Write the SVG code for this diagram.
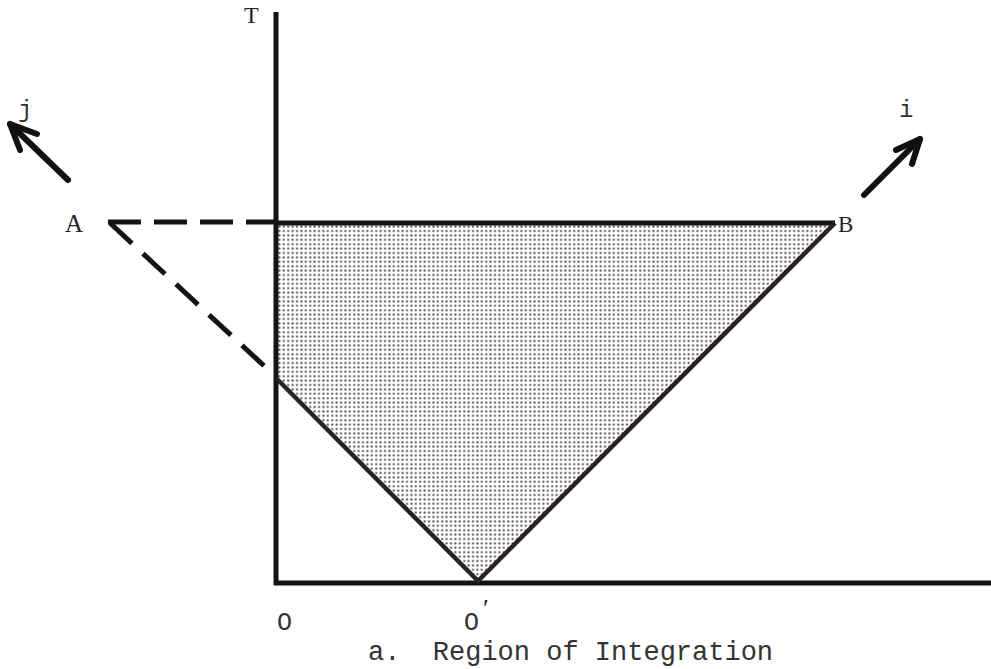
<svg xmlns="http://www.w3.org/2000/svg" width="991" height="669" viewBox="0 0 991 669">
<style>
.ln{stroke:#141414;stroke-width:5;fill:none;stroke-linecap:butt}
.dg{stroke:#2a2222;stroke-width:4.5;fill:none}
.ds{stroke:#141414;stroke-width:5;fill:none;stroke-dasharray:33 13}
.dd{stroke:#141414;stroke-width:5;fill:none;stroke-dasharray:30 15}
.ar{stroke:#111;stroke-width:6;fill:none;stroke-linecap:round;stroke-linejoin:round}
.sf{font-family:"Liberation Serif",serif;fill:#222}
.mn{font-family:"Liberation Mono",monospace;fill:#333}
</style>
<defs>
<pattern id="dots" width="4.4" height="4.4" patternUnits="userSpaceOnUse">
<circle cx="2.2" cy="2.2" r="1.05" fill="#4a4a4a"/>
</pattern>
</defs>
<g id="region">
<polygon points="276,223 833,223 478,581 276,378" fill="url(#dots)"/>
</g>
<g id="connectors">
<line class="ln" x1="276" y1="12" x2="276" y2="585"/>
<line class="ln" x1="274" y1="583" x2="991" y2="583"/>
<line class="ds" x1="108" y1="222" x2="276" y2="222"/>
<line class="ln" x1="276" y1="223" x2="835" y2="223"/>
<line class="dd" x1="110" y1="223" x2="275" y2="376"/>
<line class="dg" x1="276" y1="378" x2="479" y2="582"/>
<line class="dg" x1="477" y1="582" x2="835" y2="223"/>
<g id="arrow-j">
<line class="ar" x1="68" y1="180" x2="10" y2="124"/>
<polyline class="ar" points="20,150 10,124 37,134"/>
</g>
<g id="arrow-i">
<line class="ar" x1="864" y1="195" x2="920" y2="139"/>
<polyline class="ar" points="896,150 920,139 912,164"/>
</g>
</g>
<g id="labels">
<text class="sf" x="244" y="23" font-size="24">T</text>
<text class="mn" x="18" y="117" font-size="24">j</text>
<text class="mn" x="899" y="117" font-size="24">i</text>
<text class="sf" x="65" y="232" font-size="25">A</text>
<text class="sf" x="838" y="232" font-size="23">B</text>
<text class="mn" x="277" y="630" font-size="25">O</text>
<text class="mn" x="464" y="630" font-size="25">O</text>
<text class="sf" x="483" y="617" font-size="26">′</text>
<text class="mn" x="368" y="660" font-size="27" xml:space="preserve">a.  Region of Integration</text>
</g>
</svg>
